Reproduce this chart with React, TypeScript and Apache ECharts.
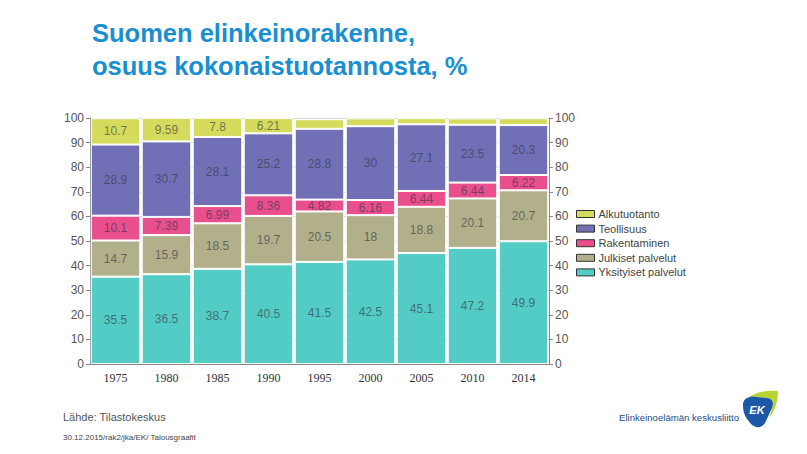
import React, { useEffect, useRef } from "react";
import * as echarts from "echarts";

const years = ["1975", "1980", "1985", "1990", "1995", "2000", "2005", "2010", "2014"];
const yksityiset = [35.5, 36.5, 38.7, 40.5, 41.5, 42.5, 45.1, 47.2, 49.9];
const julkiset = [14.7, 15.9, 18.5, 19.7, 20.5, 18, 18.8, 20.1, 20.7];
const rakentaminen = [10.1, 7.39, 6.99, 8.36, 4.82, 6.16, 6.44, 6.44, 6.22];
const teollisuus = [28.9, 30.7, 28.1, 25.2, 28.8, 30, 27.1, 23.5, 20.3];
const alkutuotanto = [10.7, 9.59, 7.8, 6.21, 3.9, 3.2, 2.5, 2.6, 2.8];
const yTicks = [0, 10, 20, 30, 40, 50, 60, 70, 80, 90, 100];

const seriesDefs = [
  { name: "Yksityiset palvelut", data: yksityiset, color: "#52ccc5" },
  { name: "Julkiset palvelut", data: julkiset, color: "#b1b08b" },
  { name: "Rakentaminen", data: rakentaminen, color: "#e84f8c" },
  { name: "Teollisuus", data: teollisuus, color: "#7170b6" },
  { name: "Alkutuotanto", data: alkutuotanto, color: "#d5db5d" },
];
const legendOrder = ["Alkutuotanto", "Teollisuus", "Rakentaminen", "Julkiset palvelut", "Yksityiset palvelut"];

const blueD =
  "M743,405 C743,398 749,396 757,397 L767,398 C773,399 774,403 772,408 L766,421 C763,428 756,429 751,424 L747,419 C744,415 743,410 743,405 Z";
const yellowD =
  "M749,397 C756,392 767,390 778,391 C778,401 775,411 769,418 L772,408 C774,403 773,399 767,398 Z";

export default function App() {
  const ref = useRef<HTMLDivElement>(null);
  useEffect(() => {
    if (!ref.current) return;
    document.body.style.margin = "0";
    try {
      echarts.graphic.registerShape("ekblue", echarts.graphic.extendPath(blueD, {}));
      echarts.graphic.registerShape("ekyellow", echarts.graphic.extendPath(yellowD, {}));
    } catch (e) {}
    const chart = echarts.init(ref.current, null, { renderer: "svg" });
    const yLabel = {
      color: "#555",
      fontFamily: "Liberation Sans, Arial, sans-serif",
      fontSize: 12,
      formatter: (v: number) => (yTicks.includes(v) ? String(v) : ""),
    };
    chart.setOption({
      animation: false,
      backgroundColor: "#ffffff",
      grid: { left: 90, right: 258, top: 118, height: 246 },
      legend: {
        orient: "vertical",
        left: 571,
        top: 203,
        data: legendOrder,
        itemWidth: 18,
        itemHeight: 7,
        itemGap: 2.6,
        icon: "rect",
        itemStyle: { borderColor: "#333", borderWidth: 1 },
        textStyle: {
          fontFamily: "Liberation Sans, Arial, sans-serif",
          fontSize: 11,
          color: "#444",
          lineHeight: 12,
          padding: [0, 0, 0, -1],
        },
      },
      xAxis: {
        type: "category",
        data: years,
        axisLine: { lineStyle: { color: "#888" } },
        axisTick: { alignWithLabel: true, length: 4, lineStyle: { color: "#888" } },
        axisLabel: {
          color: "#333",
          fontFamily: "Liberation Serif, Times New Roman, serif",
          fontSize: 12,
          margin: 8,
        },
      },
      yAxis: [
        {
          type: "value",
          min: 0,
          max: 100,
          interval: 10,
          position: "left",
          axisLine: { show: true, lineStyle: { color: "#888" } },
          axisTick: { show: true, length: 4, lineStyle: { color: "#888" } },
          splitLine: { show: true, lineStyle: { color: "#d8d8d8" } },
          axisLabel: { ...yLabel, margin: 6 },
        },
        {
          type: "value",
          min: 0,
          max: 100,
          interval: 10,
          position: "right",
          axisLine: { show: true, lineStyle: { color: "#888" } },
          axisTick: { show: true, length: 4, lineStyle: { color: "#888" } },
          splitLine: { show: false },
          axisLabel: { ...yLabel, margin: 6 },
        },
      ],
      series: seriesDefs.map((s) => ({
        name: s.name,
        type: "bar",
        stack: "total",
        yAxisIndex: 0,
        data: s.data,
        barCategoryGap: "3%",
        itemStyle: { color: s.color, borderColor: "#ffffff", borderWidth: 1 },
        label: {
          show: true,
          position: "inside",
          color: "rgba(50,50,60,0.62)",
          fontFamily: "Liberation Sans, Arial, sans-serif",
          fontSize: 12,
          formatter: (p: any) => (p.value < 4.5 ? "" : String(p.value)),
        },
      })),
      graphic: [
        {
          type: "text",
          left: 92,
          top: 16,
          style: {
            text: "Suomen elinkeinorakenne,\nosuus kokonaistuotannosta, %",
            fill: "#1a8fcf",
            font: "bold 25.5px 'Liberation Sans', Arial, sans-serif",
            lineHeight: 33,
          },
        },
        {
          type: "text",
          left: 63,
          top: 411,
          style: {
            text: "Lähde: Tilastokeskus",
            fill: "#555",
            font: "11px 'Liberation Sans', Arial, sans-serif",
          },
        },
        {
          type: "text",
          left: 63,
          top: 433,
          style: {
            text: "30.12.2015/rak2/jka/EK/ Talousgraafit",
            fill: "#444",
            font: "8px 'Liberation Sans', Arial, sans-serif",
          },
        },
        {
          type: "text",
          left: 619,
          top: 412,
          style: {
            text: "Elinkeinoelämän keskusliitto",
            fill: "#1d4f8c",
            font: "9.6px 'Liberation Sans', Arial, sans-serif",
          },
        },
        { type: "ekyellow", x: 0, y: 0, style: { fill: "#b8d432" } },
        { type: "ekblue", x: 0, y: 0, style: { fill: "#1d58a6" } },
        {
          type: "text",
          x: 757,
          y: 410,
          style: {
            text: "EK",
            fill: "#ffffff",
            font: "bold italic 11px 'Liberation Sans', Arial, sans-serif",
            align: "center",
            verticalAlign: "middle",
          },
        },
      ],
    });
    return () => chart.dispose();
  }, []);
  return <div ref={ref} style={{ width: 807, height: 454 }} />;
}
